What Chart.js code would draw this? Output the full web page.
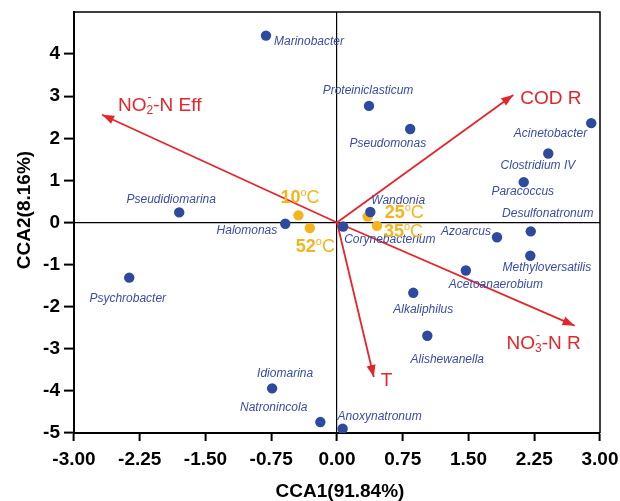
<!DOCTYPE html>
<html>
<head>
<meta charset="utf-8">
<script src="https://cdn.jsdelivr.net/npm/chart.js@4.4.0/dist/chart.umd.min.js"></script>
<style>
html,body{margin:0;padding:0;background:#fff;}
canvas{display:block;}
</style>
</head>
<body>
<canvas id="c" width="620" height="501"></canvas>
<script>
// ---- data ----
const speciesNames = ['Marinobacter','Proteiniclasticum','Pseudomonas','Acinetobacter','Clostridium IV','Paracoccus','Desulfonatronum','Azoarcus','Wandonia','Corynebacterium','Halomonas','Pseudidiomarina','Psychrobacter','Idiomarina','Natronincola','Anoxynatronum','Methyloversatilis','Acetoanaerobium','Alkaliphilus','Alishewanella'];
const speciesX = [-0.81, 0.365, 0.835, 2.90, 2.41, 2.13, 2.21, 1.825, 0.38, 0.07, -0.59, -1.80, -2.37, -0.74, -0.19, 0.064, 2.205, 1.47, 0.87, 1.03];
const speciesY = [4.44, 2.77, 2.22, 2.36, 1.64, 0.96, -0.21, -0.35, 0.25, -0.095, -0.03, 0.24, -1.31, -3.94, -4.74, -4.90, -0.79, -1.14, -1.67, -2.69];

const sampleNames = ['10', '52', '25', '35'];
const sampleX = [-0.44, -0.31, 0.35, 0.456];
const sampleY = [0.17, -0.13, 0.14, -0.08];

const envNames = ['NO2-N Eff', 'COD R', 'NO3-N R', 'T'];
const envX = [-2.68, 2.01, 2.71, 0.42];
const envY = [2.56, 3.03, -2.45, -3.67];

const xTicks = [-3.00, -2.25, -1.50, -0.75, 0.00, 0.75, 1.50, 2.25, 3.00];
const yTicks = [-5, -4, -3, -2, -1, 0, 1, 2, 3, 4];
const xTitle = 'CCA1(91.84%)';
const yTitle = 'CCA2(8.16%)';

// ---- styles / label placement (pixels) ----
const BLUE = '#2D4A9C', BLUE_TXT = '#3B4CA6', ORANGE = '#F6B41C', RED = '#E5252B';
const FONT = "'Liberation Sans', Arial, sans-serif";
const speciesLabelPos = [
  ['left', 8, 6], ['center', -1, -15], ['right', 16, 15], ['right', -4, 11], ['right', 27, 12],
  ['center', -1, 10], ['center', 17, -18], ['right', -6, -6], ['left', 1, -11.5], ['left', 1, 13],
  ['right', -8, 7], ['center', -8, -13], ['center', -1.5, 21.5], ['center', 13, -15], ['right', -13, -14],
  ['left', -5, -12], ['center', 16.5, 12], ['left', -17, 14], ['center', 10, 17], ['center', 20, 24]
];
const sampleLabelPos = [[-18, -17], [-14, 19], [17, -3.7], [7, 6]];
const envLabelPos = [[16, -9], [7, 4], [-68, 18], [7, 4]];

function px(chart, vx, vy) {
  return [chart.scales.x.getPixelForValue(vx), chart.scales.y.getPixelForValue(vy)];
}

const overlay = {
  id: 'overlay',
  beforeDatasetsDraw(chart) {
    const {ctx, chartArea: a} = chart;
    ctx.save();
    ctx.strokeStyle = '#000';
    ctx.lineWidth = 1.5;
    ctx.beginPath();
    ctx.moveTo(a.left, a.top);
    ctx.lineTo(a.right, a.top);
    ctx.lineTo(a.right, a.bottom);
    ctx.stroke();
    ctx.restore();
  },
  afterDatasetsDraw(chart) {
    const {ctx} = chart;
    ctx.save();
    // arrowheads
    const [ox, oy] = px(chart, 0, 0);
    envX.forEach((ex, i) => {
      const [tx, ty] = px(chart, ex, envY[i]);
      const ang = Math.atan2(ty - oy, tx - ox);
      const L = 12, W = 4.5, c = Math.cos(ang), s = Math.sin(ang);
      ctx.fillStyle = RED;
      ctx.beginPath();
      ctx.moveTo(tx, ty);
      ctx.lineTo(tx - L * c + W * s, ty - L * s - W * c);
      ctx.lineTo(tx - L * c - W * s, ty - L * s + W * c);
      ctx.closePath();
      ctx.fill();
    });
    // species labels
    ctx.fillStyle = BLUE_TXT;
    ctx.font = 'italic 12px ' + FONT;
    ctx.textBaseline = 'middle';
    speciesNames.forEach((n, i) => {
      const [x, y] = px(chart, speciesX[i], speciesY[i]);
      const [al, dx, dy] = speciesLabelPos[i];
      ctx.textAlign = al;
      ctx.fillText(n, x + dx, y + dy);
    });
    // sample labels
    ctx.textAlign = 'left';
    ctx.fillStyle = ORANGE;
    sampleNames.forEach((n, i) => {
      const [x, y] = px(chart, sampleX[i], sampleY[i]);
      let cx = x + sampleLabelPos[i][0], cy = y + sampleLabelPos[i][1];
      ctx.font = 'bold 18px ' + FONT;
      ctx.fillText(n, cx, cy);
      cx += ctx.measureText(n).width;
      ctx.font = '11px ' + FONT;
      ctx.fillText('o', cx, cy - 5);
      cx += ctx.measureText('o').width;
      ctx.font = '18px ' + FONT;
      ctx.fillText('C', cx, cy);
    });
    // env labels
    ctx.fillStyle = RED;
    envNames.forEach((n, i) => {
      const [x, y] = px(chart, envX[i], envY[i]);
      let cx = x + envLabelPos[i][0], cy = y + envLabelPos[i][1];
      const big = '19px ' + FONT, small = '12px ' + FONT;
      const m = n.match(/^NO(\d)(-N .*)$/);
      if (m) {
        ctx.font = big;
        ctx.fillText('NO', cx, cy);
        cx += ctx.measureText('NO').width;
        ctx.font = small;
        ctx.fillText(m[1], cx, cy + 5);
        ctx.fillText('-', cx + 1, cy - 8);
        cx += ctx.measureText(m[1]).width;
        ctx.font = big;
        ctx.fillText(m[2], cx, cy);
      } else {
        ctx.font = big;
        ctx.fillText(n, cx, cy);
      }
    });
    ctx.restore();
  },
  afterDraw(chart) {
    const {ctx} = chart;
    ctx.save();
    ctx.fillStyle = '#000';
    ctx.font = 'bold 19px ' + FONT;
    ctx.textAlign = 'center';
    ctx.textBaseline = 'middle';
    ctx.fillText(xTitle, 340, 492);
    ctx.translate(25, 210);
    ctx.rotate(-Math.PI / 2);
    ctx.fillText(yTitle, 0, 0);
    ctx.restore();
  }
};

const isZero = v => Math.abs(v) < 1e-9;

const datasets = [
  {
    label: 'species',
    data: speciesX.map((v, i) => ({x: v, y: speciesY[i]})),
    backgroundColor: BLUE, borderWidth: 0, pointRadius: 5.2, order: 0
  },
  {
    label: 'samples',
    data: sampleX.map((v, i) => ({x: v, y: sampleY[i]})),
    backgroundColor: ORANGE, borderWidth: 0, pointRadius: 5.2, order: 1
  }
];
envX.forEach((v, i) => {
  datasets.push({
    label: envNames[i],
    data: [{x: 0, y: 0}, {x: v, y: envY[i]}],
    showLine: true, borderColor: RED, borderWidth: 1.8, pointRadius: 0, order: 2
  });
});

new Chart(document.getElementById('c'), {
  type: 'scatter',
  data: {datasets},
  plugins: [overlay],
  options: {
    responsive: false,
    animation: false,
    devicePixelRatio: 1,
    layout: {padding: {top: 12, right: 20, left: 0, bottom: 0}},
    plugins: {legend: {display: false}, tooltip: {enabled: false}},
    scales: {
      x: {
        type: 'linear', min: -3, max: 3,
        afterFit: s => { s.height = 68; s.paddingLeft = 0; s.paddingRight = 0; },
        afterBuildTicks: s => { s.ticks = xTicks.map(v => ({value: v})); },
        border: {display: true, color: '#000', width: 2},
        grid: {
          drawOnChartArea: true,
          color: c => (c.tick && isZero(c.tick.value)) ? '#000' : 'rgba(0,0,0,0)',
          lineWidth: 1.2,
          tickColor: '#000', tickLength: 8, tickWidth: 2
        },
        ticks: {
          color: '#000', padding: 7,
          font: {family: FONT, size: 19, weight: 'bold'},
          maxRotation: 0, autoSkip: false,
          callback: v => v.toFixed(2)
        }
      },
      y: {
        type: 'linear', min: -5, max: 5,
        afterFit: s => { s.width = 74; s.paddingTop = 0; s.paddingBottom = 0; },
        afterBuildTicks: s => { s.ticks = yTicks.map(v => ({value: v})); },
        border: {display: true, color: '#000', width: 2},
        grid: {
          drawOnChartArea: true,
          color: c => (c.tick && isZero(c.tick.value)) ? '#000' : 'rgba(0,0,0,0)',
          lineWidth: 1.2,
          tickColor: '#000', tickLength: 10, tickWidth: 2
        },
        ticks: {
          color: '#000', padding: 4,
          font: {family: FONT, size: 19, weight: 'bold'},
          autoSkip: false,
          callback: v => String(v)
        }
      }
    }
  }
});
</script>
</body>
</html>
